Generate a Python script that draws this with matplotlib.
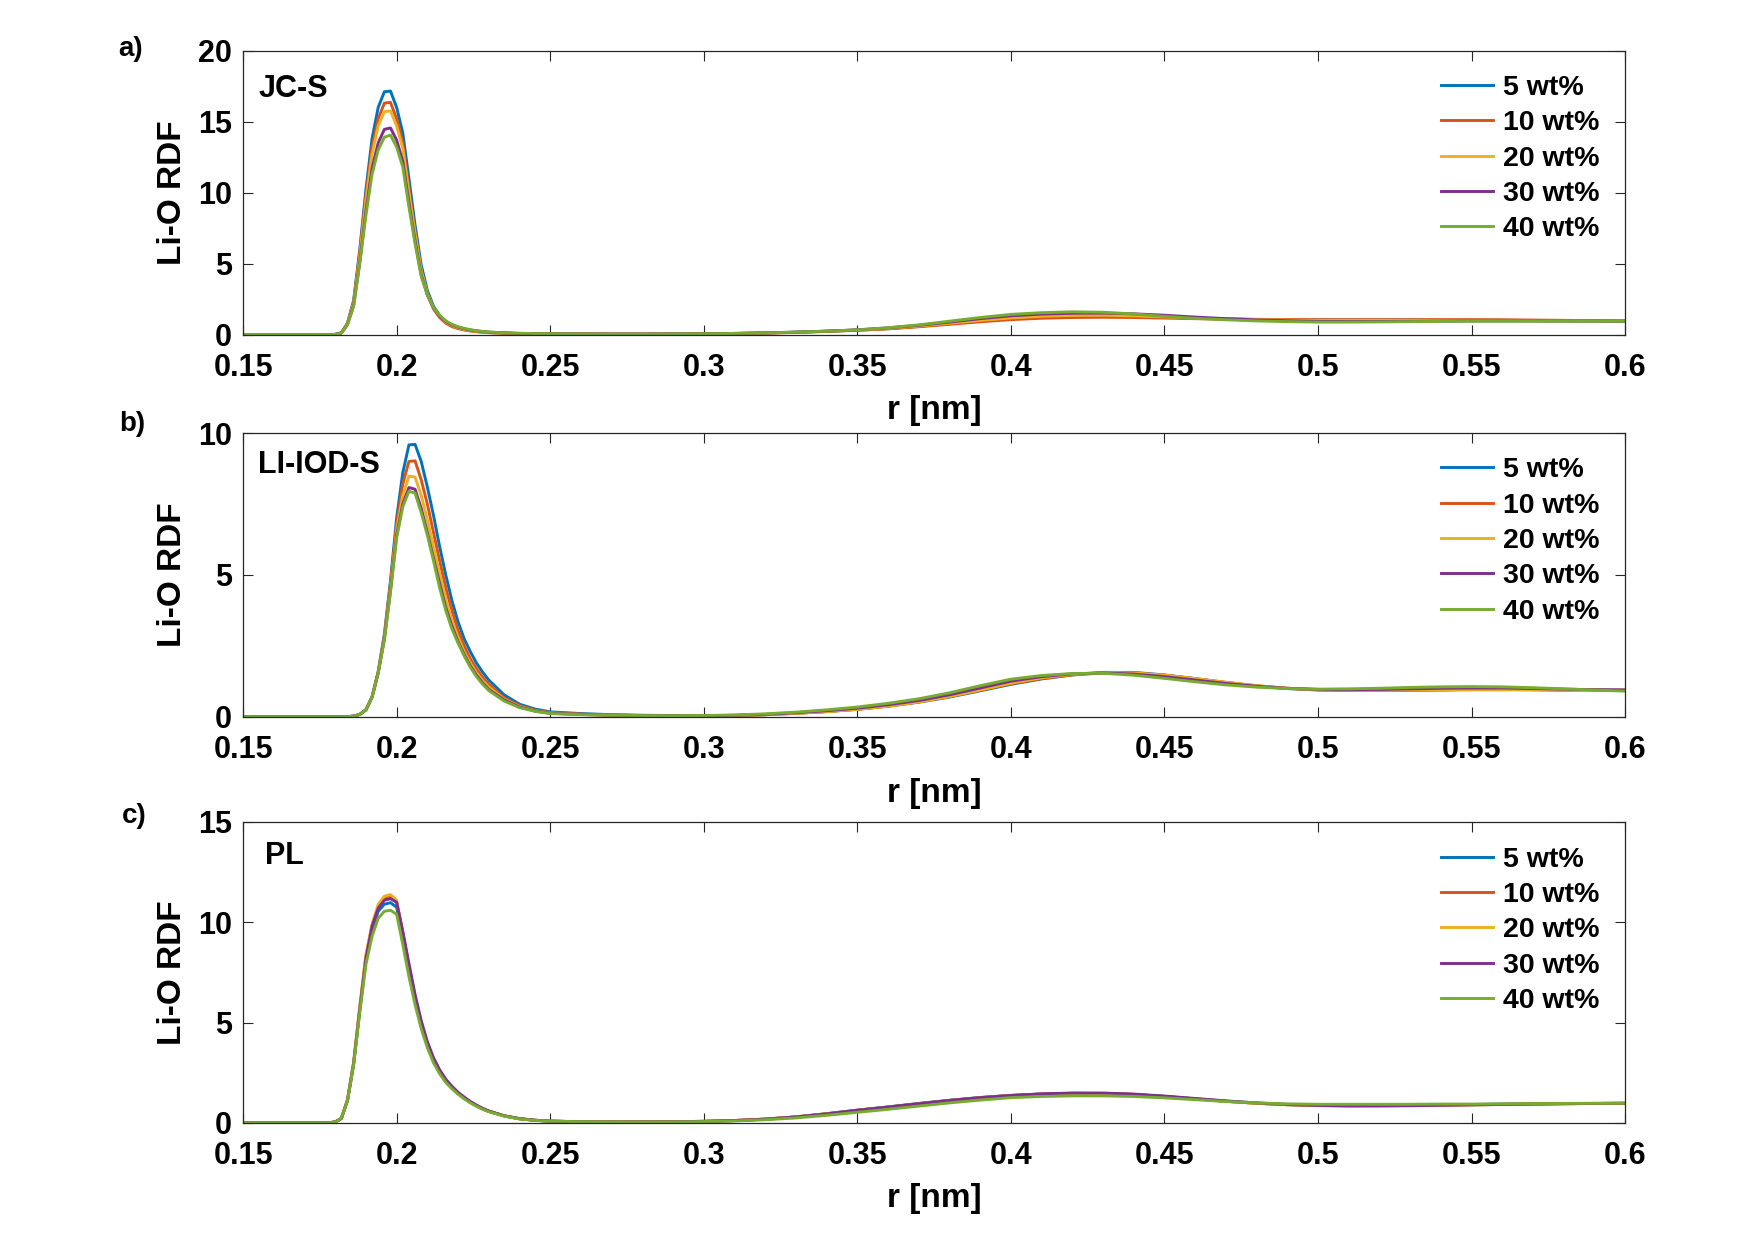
import matplotlib
matplotlib.use("Agg")
import matplotlib.pyplot as plt
import numpy as np

plt.rcParams['font.family'] = ['Liberation Sans', 'DejaVu Sans']
plt.rcParams['font.weight'] = 'bold'

# r grid [nm]
r_peak = [0.150, 0.170, 0.176, 0.178, 0.180, 0.182, 0.184, 0.186, 0.188, 0.190,
          0.192, 0.194, 0.196, 0.198, 0.200, 0.202, 0.204, 0.206, 0.208, 0.210,
          0.212, 0.214, 0.216, 0.218, 0.220, 0.222, 0.224, 0.226, 0.228, 0.230,
          0.235, 0.240, 0.245, 0.250]
r_tail = [0.26, 0.27, 0.28, 0.29, 0.30, 0.31, 0.32, 0.33, 0.34, 0.35,
          0.36, 0.37, 0.38, 0.39, 0.40, 0.41, 0.42, 0.43, 0.44, 0.45,
          0.46, 0.47, 0.48, 0.49, 0.50, 0.51, 0.52, 0.53, 0.54, 0.55,
          0.56, 0.57, 0.58, 0.59, 0.60]

series_labels = ['5 wt%', '10 wt%', '20 wt%', '30 wt%', '40 wt%']
colors = ['#0072BD', '#D95319', '#EDB120', '#7E2F8E', '#77AC30']

# ---- panel a: JC-S ----
a5_peak = [0, 0, 0, 0, 0.01, 0.12, 0.8, 2.4, 6.0, 10.2, 13.8, 16.0, 17.1, 17.15, 16.0, 14.2, 11.0,
           7.7, 4.9, 3.1, 2.0, 1.35, 0.92, 0.66, 0.5, 0.38, 0.29, 0.23, 0.18, 0.15, 0.1, 0.07, 0.05, 0.04]
a10_peak = [0, 0, 0, 0, 0.01, 0.12, 0.8, 2.3, 5.8, 9.8, 13.2, 15.2, 16.3, 16.35, 15.2, 13.5, 10.3,
            7.2, 4.5, 2.8, 1.8, 1.2, 0.8, 0.56, 0.42, 0.32, 0.25, 0.2, 0.16, 0.13, 0.09, 0.07, 0.05, 0.04]
a20_peak = [0, 0, 0, 0, 0.01, 0.12, 0.75, 2.2, 5.5, 9.4, 12.7, 14.7, 15.7, 15.75, 14.7, 13.1, 10.0,
            7.1, 4.5, 2.9, 1.9, 1.3, 0.88, 0.63, 0.48, 0.37, 0.29, 0.23, 0.18, 0.15, 0.1, 0.07, 0.05, 0.04]
a30_peak = [0, 0, 0, 0, 0.01, 0.1, 0.7, 2.05, 5.1, 8.7, 11.7, 13.5, 14.45, 14.55, 13.7, 12.2, 9.3,
            6.6, 4.2, 2.8, 1.9, 1.3, 0.92, 0.68, 0.52, 0.41, 0.32, 0.26, 0.21, 0.17, 0.12, 0.08, 0.06, 0.05]
a40_peak = [0, 0, 0, 0, 0.01, 0.1, 0.7, 2.0, 5.0, 8.4, 11.3, 13.0, 13.9, 14.05, 13.2, 11.8, 9.0,
            6.4, 4.1, 2.8, 1.9, 1.35, 0.96, 0.72, 0.55, 0.43, 0.34, 0.27, 0.22, 0.18, 0.12, 0.09, 0.07, 0.05]
a5_tail = [0.04, 0.03, 0.03, 0.04, 0.05, 0.07, 0.11, 0.16, 0.23, 0.31, 0.42, 0.58, 0.77, 0.96, 1.12,
           1.23, 1.29, 1.31, 1.28, 1.22, 1.15, 1.1, 1.06, 1.03, 1.02, 1.01, 1.01, 1.01, 1.01, 1.01,
           1.0, 0.99, 0.98, 0.96, 0.95]
a10_tail = [0.04, 0.03, 0.03, 0.04, 0.05, 0.07, 0.1, 0.15, 0.22, 0.3, 0.4, 0.55, 0.72, 0.9, 1.05,
            1.15, 1.2, 1.22, 1.2, 1.16, 1.12, 1.09, 1.07, 1.06, 1.05, 1.05, 1.05, 1.05, 1.05, 1.05,
            1.04, 1.02, 1.0, 0.97, 0.95]
a20_tail = [0.04, 0.03, 0.03, 0.04, 0.05, 0.07, 0.11, 0.16, 0.23, 0.32, 0.44, 0.6, 0.8, 1.0, 1.17,
            1.29, 1.35, 1.36, 1.32, 1.24, 1.16, 1.1, 1.05, 1.02, 1.0, 0.99, 0.99, 0.99, 1.0, 1.0,
            0.99, 0.98, 0.97, 0.96, 0.95]
a30_tail = [0.04, 0.03, 0.03, 0.04, 0.05, 0.08, 0.12, 0.17, 0.24, 0.33, 0.47, 0.65, 0.88, 1.12, 1.32,
            1.44, 1.5, 1.51, 1.46, 1.36, 1.23, 1.12, 1.03, 0.97, 0.93, 0.92, 0.92, 0.93, 0.95, 0.96,
            0.96, 0.96, 0.95, 0.95, 0.94]
a40_tail = [0.04, 0.03, 0.03, 0.04, 0.05, 0.08, 0.12, 0.17, 0.24, 0.33, 0.48, 0.68, 0.94, 1.2, 1.42,
            1.54, 1.6, 1.57, 1.45, 1.28, 1.14, 1.04, 0.96, 0.91, 0.88, 0.88, 0.89, 0.91, 0.93, 0.94,
            0.94, 0.94, 0.94, 0.94, 0.94]

# ---- panel b: LI-IOD-S ----
b5_peak = [0, 0, 0, 0, 0, 0, 0.01, 0.03, 0.09, 0.25, 0.7, 1.6, 2.9, 4.8, 7.0, 8.6, 9.58, 9.6, 9.0,
           8.1, 7.1, 6.0, 5.0, 4.1, 3.35, 2.75, 2.3, 1.9, 1.58, 1.3, 0.78, 0.45, 0.28, 0.18]
b10_peak = [0, 0, 0, 0, 0, 0, 0.01, 0.03, 0.09, 0.25, 0.7, 1.58, 2.85, 4.7, 6.8, 8.2, 9.0, 9.02, 8.35,
            7.5, 6.5, 5.5, 4.55, 3.75, 3.05, 2.5, 2.05, 1.7, 1.4, 1.15, 0.68, 0.4, 0.24, 0.15]
b20_peak = [0, 0, 0, 0, 0, 0, 0.01, 0.03, 0.09, 0.25, 0.7, 1.57, 2.8, 4.55, 6.6, 7.8, 8.48, 8.45, 7.8,
            6.95, 6.0, 5.05, 4.15, 3.4, 2.8, 2.3, 1.9, 1.55, 1.28, 1.05, 0.63, 0.37, 0.22, 0.14]
b30_peak = [0, 0, 0, 0, 0, 0, 0.01, 0.03, 0.09, 0.25, 0.7, 1.55, 2.75, 4.45, 6.4, 7.5, 8.08, 8.02, 7.35,
            6.5, 5.6, 4.7, 3.85, 3.2, 2.65, 2.2, 1.8, 1.47, 1.2, 0.97, 0.6, 0.35, 0.21, 0.13]
b40_peak = [0, 0, 0, 0, 0, 0, 0.01, 0.03, 0.09, 0.25, 0.7, 1.55, 2.7, 4.4, 6.3, 7.4, 7.95, 7.88, 7.2,
            6.4, 5.5, 4.55, 3.75, 3.1, 2.6, 2.15, 1.75, 1.42, 1.15, 0.93, 0.56, 0.33, 0.2, 0.12]
b5_tail = [0.12, 0.08, 0.06, 0.05, 0.04, 0.05, 0.08, 0.13, 0.19, 0.27, 0.38, 0.52, 0.7, 0.92, 1.15,
           1.34, 1.48, 1.57, 1.57, 1.48, 1.35, 1.21, 1.09, 1.0, 0.95, 0.93, 0.93, 0.94, 0.95, 0.96,
           0.96, 0.96, 0.95, 0.95, 0.95]
b10_tail = [0.1, 0.07, 0.05, 0.04, 0.04, 0.05, 0.08, 0.13, 0.19, 0.27, 0.38, 0.53, 0.72, 0.94, 1.17,
            1.35, 1.48, 1.55, 1.55, 1.47, 1.35, 1.22, 1.1, 1.01, 0.96, 0.94, 0.94, 0.95, 0.96, 0.97,
            0.97, 0.96, 0.95, 0.95, 0.95]
b20_tail = [0.09, 0.06, 0.05, 0.04, 0.04, 0.05, 0.08, 0.13, 0.19, 0.27, 0.38, 0.53, 0.72, 0.95, 1.19,
            1.38, 1.5, 1.56, 1.55, 1.47, 1.35, 1.22, 1.1, 1.01, 0.96, 0.94, 0.94, 0.95, 0.96, 0.97,
            0.97, 0.96, 0.95, 0.94, 0.93]
b30_tail = [0.09, 0.06, 0.05, 0.04, 0.04, 0.06, 0.09, 0.15, 0.22, 0.31, 0.43, 0.58, 0.78, 1.02, 1.26,
            1.42, 1.52, 1.55, 1.51, 1.42, 1.3, 1.18, 1.08, 1.01, 0.97, 0.96, 0.97, 0.99, 1.01, 1.02,
            1.02, 1.0, 0.98, 0.96, 0.94]
b40_tail = [0.08, 0.06, 0.05, 0.04, 0.05, 0.07, 0.11, 0.17, 0.25, 0.35, 0.48, 0.64, 0.85, 1.1, 1.33,
            1.46, 1.53, 1.54, 1.47, 1.36, 1.24, 1.13, 1.05, 1.0, 0.98, 0.99, 1.01, 1.04, 1.06, 1.07,
            1.06, 1.03, 0.99, 0.95, 0.91]

# ---- panel c: PL ----
c5_peak = [0, 0, 0, 0.01, 0.05, 0.22, 1.12, 2.95, 5.65, 8.1, 9.6, 10.55, 10.9, 10.98, 10.75, 9.2, 7.6,
           6.1, 4.85, 3.85, 3.1, 2.52, 2.07, 1.74, 1.46, 1.23, 1.02, 0.85, 0.7, 0.58, 0.35, 0.21, 0.13, 0.09]
c10_peak = [0, 0, 0, 0.01, 0.05, 0.23, 1.15, 3.0, 5.75, 8.3, 9.85, 10.8, 11.2, 11.28, 11.0, 9.45, 7.8,
            6.25, 4.95, 3.92, 3.15, 2.56, 2.1, 1.76, 1.48, 1.24, 1.03, 0.86, 0.7, 0.58, 0.35, 0.21, 0.13, 0.09]
c20_peak = [0, 0, 0, 0.01, 0.05, 0.23, 1.15, 3.05, 5.8, 8.4, 9.9, 10.9, 11.3, 11.38, 11.1, 9.5, 7.85,
            6.3, 5.0, 3.95, 3.17, 2.58, 2.12, 1.78, 1.49, 1.25, 1.04, 0.86, 0.71, 0.58, 0.35, 0.21, 0.13, 0.09]
c30_peak = [0, 0, 0, 0.01, 0.05, 0.22, 1.12, 2.95, 5.65, 8.2, 9.8, 10.7, 11.1, 11.18, 11.0, 9.55, 7.95,
            6.4, 5.1, 4.05, 3.25, 2.65, 2.18, 1.83, 1.53, 1.29, 1.07, 0.89, 0.73, 0.6, 0.36, 0.22, 0.14, 0.09]
c40_peak = [0, 0, 0, 0.01, 0.05, 0.22, 1.1, 2.9, 5.5, 7.9, 9.3, 10.2, 10.55, 10.6, 10.4, 8.9, 7.3,
            5.9, 4.7, 3.75, 3.0, 2.45, 2.02, 1.7, 1.43, 1.2, 1.0, 0.83, 0.68, 0.56, 0.34, 0.2, 0.13, 0.09]
c5_tail = [0.06, 0.05, 0.05, 0.06, 0.08, 0.12, 0.19, 0.3, 0.46, 0.64, 0.8, 0.97, 1.13, 1.27, 1.37,
           1.44, 1.48, 1.47, 1.42, 1.32, 1.2, 1.08, 0.98, 0.91, 0.87, 0.86, 0.87, 0.88, 0.9, 0.92,
           0.94, 0.95, 0.96, 0.97, 0.98]
c10_tail = [0.06, 0.05, 0.05, 0.06, 0.08, 0.12, 0.19, 0.3, 0.46, 0.63, 0.79, 0.96, 1.12, 1.26, 1.37,
            1.44, 1.47, 1.47, 1.42, 1.32, 1.2, 1.08, 0.98, 0.91, 0.87, 0.86, 0.86, 0.87, 0.89, 0.91,
            0.93, 0.95, 0.96, 0.97, 0.98]
c20_tail = [0.06, 0.05, 0.05, 0.06, 0.08, 0.12, 0.19, 0.3, 0.45, 0.62, 0.78, 0.95, 1.11, 1.25, 1.36,
            1.43, 1.47, 1.47, 1.42, 1.32, 1.2, 1.08, 0.98, 0.91, 0.86, 0.85, 0.85, 0.86, 0.88, 0.9,
            0.92, 0.94, 0.96, 0.97, 0.98]
c30_tail = [0.06, 0.05, 0.05, 0.06, 0.08, 0.12, 0.19, 0.3, 0.45, 0.63, 0.79, 0.96, 1.12, 1.26, 1.37,
            1.45, 1.49, 1.49, 1.44, 1.34, 1.22, 1.1, 1.0, 0.92, 0.87, 0.85, 0.85, 0.86, 0.88, 0.9,
            0.92, 0.94, 0.96, 0.97, 0.98]
c40_tail = [0.06, 0.05, 0.04, 0.05, 0.07, 0.1, 0.16, 0.25, 0.38, 0.53, 0.68, 0.84, 1.0, 1.14, 1.26,
            1.32, 1.35, 1.35, 1.32, 1.25, 1.16, 1.07, 1.0, 0.95, 0.93, 0.93, 0.93, 0.93, 0.94, 0.94,
            0.95, 0.96, 0.97, 0.98, 0.98]

panels = [
    dict(tag='a)', name='JC-S', ylim=20, yticks=[0, 5, 10, 15, 20],
         peaks=[a5_peak, a10_peak, a20_peak, a30_peak, a40_peak],
         tails=[a5_tail, a10_tail, a20_tail, a30_tail, a40_tail],
         rect=[0.1385, 0.7302, 0.7875, 0.2290], name_xy=(0.011, 0.866)),
    dict(tag='b)', name='LI-IOD-S', ylim=10, yticks=[0, 5, 10],
         peaks=[b5_peak, b10_peak, b20_peak, b30_peak, b40_peak],
         tails=[b5_tail, b10_tail, b20_tail, b30_tail, b40_tail],
         rect=[0.1385, 0.4218, 0.7875, 0.2290], name_xy=(0.011, 0.888)),
    dict(tag='c)', name='PL', ylim=15, yticks=[0, 5, 10, 15],
         peaks=[c5_peak, c10_peak, c20_peak, c30_peak, c40_peak],
         tails=[c5_tail, c10_tail, c20_tail, c30_tail, c40_tail],
         rect=[0.1385, 0.0944, 0.7875, 0.2427], name_xy=(0.016, 0.887)),
]
xticks = [0.15, 0.2, 0.25, 0.3, 0.35, 0.4, 0.45, 0.5, 0.55, 0.6]
xticklabels = ['0.15', '0.2', '0.25', '0.3', '0.35', '0.4', '0.45', '0.5', '0.55', '0.6']
tag_pos = [(131, 49), (132, 424), (134, 816)]

W, H = 1755, 1240
fig = plt.figure(figsize=(W / 100, H / 100), dpi=100)
axcol = '#262626'
for i, p in enumerate(panels):
    ax = fig.add_axes(p['rect'])
    r = r_peak + r_tail
    for k in range(5):
        y = p['peaks'][k] + p['tails'][k]
        ax.plot(r, y, color=colors[k], lw=2.1, label=series_labels[k])
    ax.set_xlim(0.15, 0.6)
    ax.set_ylim(0, p['ylim'])
    ax.set_xticks(xticks)
    ax.set_xticklabels(xticklabels)
    ax.set_yticks(p['yticks'])
    ax.tick_params(direction='in', length=7, width=0.8, color=axcol, labelsize=22,
                   top=True, right=True)
    ax.tick_params(axis='x', pad=13)
    ax.tick_params(axis='y', pad=8)
    for lab in ax.get_xticklabels() + ax.get_yticklabels():
        lab.set_fontweight('bold')
    for s in ax.spines.values():
        s.set_color(axcol)
        s.set_linewidth(0.9)
    ax.set_xlabel('r [nm]', fontsize=24, fontweight='bold', labelpad=9)
    ax.set_ylabel('Li-O RDF', fontsize=24, fontweight='bold', labelpad=7)
    ax.text(p['name_xy'][0], p['name_xy'][1], p['name'], transform=ax.transAxes,
            fontsize=22, fontweight='bold', ha='left', va='center')
    leg = ax.legend(loc='upper right', bbox_to_anchor=(0.994, 0.975), frameon=False,
                    fontsize=20.5, handlelength=1.85, handletextpad=0.35, labelspacing=0.33,
                    borderaxespad=0.2)
    for t in leg.get_texts():
        t.set_fontweight('bold')
    fig.text(tag_pos[i][0] / W, 1 - tag_pos[i][1] / H, p['tag'], fontsize=20,
             fontweight='bold', ha='center', va='center')

fig.savefig('out.png', dpi=100)
